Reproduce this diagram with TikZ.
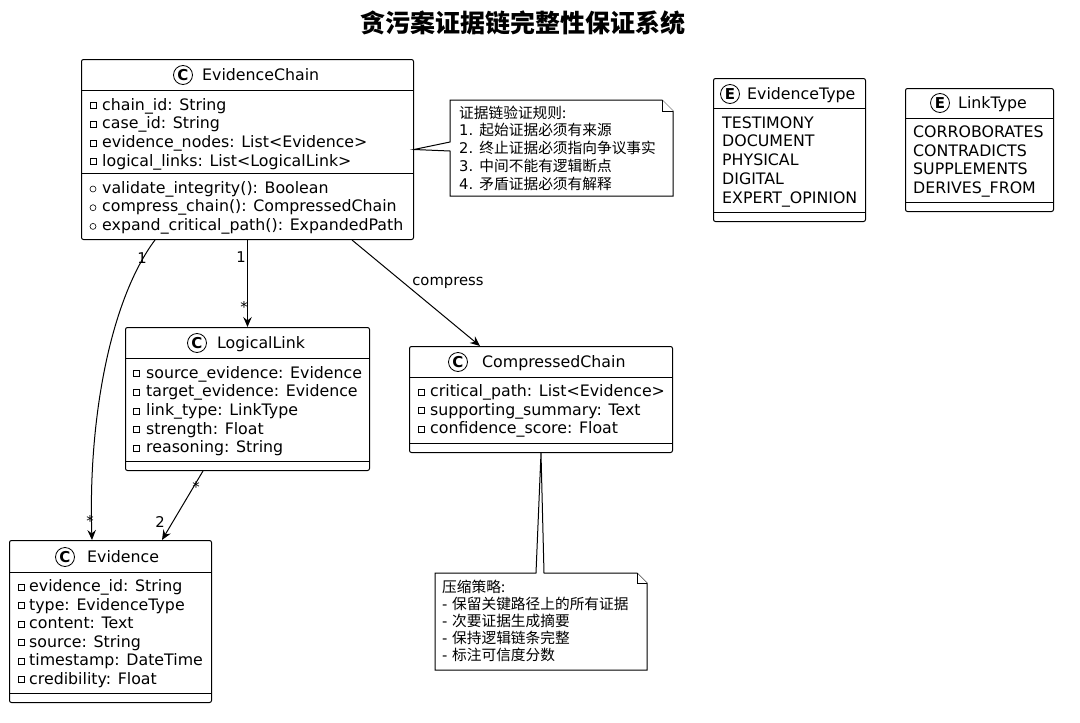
\documentclass[tikz,border=0pt]{standalone}
\usepackage{fontspec}
\setmainfont{DejaVu Sans}
\newfontfamily\cjk{Noto Sans CJK SC}
\usetikzlibrary{arrows.meta,positioning}

\tikzset{
  classbox/.style={draw, rounded corners=2pt, anchor=north west, inner sep=0pt, line width=1pt},
  divider/.style={line width=1pt},
  icon/.style={draw, circle, inner sep=0pt, minimum size=19pt, line width=0.8pt, font=\fontsize{15}{15}\selectfont\bfseries},
  classname/.style={anchor=base west, inner sep=0pt, font=\fontsize{15.8}{18}\selectfont},
  member/.style={anchor=base west, inner sep=0pt, font=\fontsize{15.8}{18}\selectfont},
  privmark/.style={line width=0.6pt},
  notebox/.style={draw, fill=white, line width=1pt, line join=miter},
  notetext/.style={anchor=base west, inner sep=0pt, font=\fontsize{14.7}{18}\selectfont},
  assoc/.style={-{Stealth[length=10pt,width=8.5pt,inset=3.5pt]}, line width=1pt},
  mult/.style={inner sep=0pt, font=\fontsize{14.8}{18}\selectfont},
}

\begin{document}
\begin{tikzpicture}[x=1pt, y=-1pt]
\useasboundingbox (0,0) rectangle (1080,723);

% Title
\node[font=\cjk\bfseries\fontsize{25}{25}\selectfont] (title) at (523,23) {贪污案证据链完整性保证系统};

% EvidenceChain
\node[classbox, minimum width=332pt, minimum height=180pt] (chain) at (81,59) {};
\draw[divider] (81,90) -- (413,90);
\draw[divider] (81,173) -- (413,173);
\node[icon] (chainicon) at (183,75) {C};
\node[classname] (chainname) at (202,80.5) {EvidenceChain};
\foreach \t [count=\i from 0] in {chain\_id: String, case\_id: String, evidence\_nodes: List<Evidence>, logical\_links: List<LogicalLink>} {
  \draw[privmark] (90,{102.5+18.7*\i}) rectangle +(6,6);
  \node[member] at (102,{110+18.7*\i}) {\t};
}
\foreach \t [count=\i from 0] in {validate\_integrity(): Boolean, compress\_chain(): CompressedChain, expand\_critical\_path(): ExpandedPath} {
  \draw[privmark] (93,{189+18.7*\i}) circle (3pt);
  \node[member] at (102,{193+18.7*\i}) {\t};
}

% rules note
\draw[notebox] (450,100) -- (662,100) -- (673,111) -- (673,196) -- (450,196) -- (450,151) -- (chain.east) -- (450,142) -- cycle;
\draw[notebox] (662,100) -- (662,111) -- (673,111);
\foreach \t [count=\i from 0] in {\cjk 证据链验证规则:, 1. \cjk 起始证据必须有来源, 2. \cjk 终止证据必须指向争议事实, 3. \cjk 中间不能有逻辑断点, 4. \cjk 矛盾证据必须有解释} {
  \node[notetext] at (459,{118+17.8*\i}) {\t};
}

% EvidenceType
\node[classbox, minimum width=152pt, minimum height=143pt] (etype) at (713,78) {};
\draw[divider] (713,108) -- (865,108);
\draw[divider] (713,212) -- (865,212);
\node[icon] (etypeicon) at (730,94) {E};
\node[classname] (etypename) at (747,99.5) {EvidenceType};
\foreach \t [count=\i from 0] in {TESTIMONY, DOCUMENT, PHYSICAL, DIGITAL, EXPERT\_OPINION} {
  \node[member] at (722,{128+18.8*\i}) {\t};
}

% LinkType
\node[classbox, minimum width=148pt, minimum height=123pt] (ltype) at (905,88) {};
\draw[divider] (905,118) -- (1053,118);
\draw[divider] (905,202) -- (1053,202);
\node[icon] (ltypeicon) at (940,103) {E};
\node[classname] (ltypename) at (958,108.5) {LinkType};
\foreach \t [count=\i from 0] in {CORROBORATES, CONTRADICTS, SUPPLEMENTS, DERIVES\_FROM} {
  \node[member] at (913,{137.5+18.7*\i}) {\t};
}

% LogicalLink
\node[classbox, minimum width=244pt, minimum height=143pt] (link) at (125,327) {};
\draw[divider] (125,358) -- (369,358);
\draw[divider] (125,461) -- (369,461);
\node[icon] (linkicon) at (197,343) {C};
\node[classname] (linkname) at (217,348.5) {LogicalLink};
\foreach \t [count=\i from 0] in {source\_evidence: Evidence, target\_evidence: Evidence, link\_type: LinkType, strength: Float, reasoning: String} {
  \draw[privmark] (133,{370.5+18.7*\i}) rectangle +(6,6);
  \node[member] at (146,{378+18.7*\i}) {\t};
}

% CompressedChain
\node[classbox, minimum width=263pt, minimum height=106pt] (comp) at (409,346) {};
\draw[divider] (409,377) -- (672,377);
\draw[divider] (409,443) -- (672,443);
\node[icon] (compicon) at (458,362) {C};
\node[classname] (compname) at (482,367.5) {CompressedChain};
\foreach \t [count=\i from 0] in {critical\_path: List<Evidence>, supporting\_summary: Text, confidence\_score: Float} {
  \draw[privmark] (418,{389+18.7*\i}) rectangle +(6,6);
  \node[member] at (430,{396.5+18.7*\i}) {\t};
}

% strategy note
\draw[notebox] (435,573) -- (536,573) -- (comp.south) -- (544,573) -- (637,573) -- (647,583) -- (647,670) -- (435,670) -- cycle;
\draw[notebox] (637,573) -- (637,583) -- (647,583);
\foreach \t [count=\i from 0] in {\cjk 压缩策略:, - \cjk 保留关键路径上的所有证据, - \cjk 次要证据生成摘要, - \cjk 保持逻辑链条完整, - \cjk 标注可信度分数} {
  \node[notetext] at (442,{592+17.2*\i}) {\t};
}

% Evidence
\node[classbox, minimum width=202pt, minimum height=162pt] (evid) at (9,540) {};
\draw[divider] (9,572) -- (211,572);
\draw[divider] (9,693) -- (211,693);
\node[icon] (evidicon) at (65,557) {C};
\node[classname] (evidname) at (87,562.5) {Evidence};
\foreach \t [count=\i from 0] in {evidence\_id: String, type: EvidenceType, content: Text, source: String, timestamp: DateTime, credibility: Float} {
  \draw[privmark] (18,{584+18.5*\i}) rectangle +(6,6);
  \node[member] at (29,{591.5+18.5*\i}) {\t};
}

% Connectors
\draw[assoc] ([xshift=74pt]chain.south west) .. controls (110,300) and (88,420) .. ([xshift=83pt]evid.north west);
\node[mult] at (142,258) {1};
\node[mult] at (90,521) {*};

\draw[assoc] (chain.south) -- (link.north);
\node[mult] at (241,257) {1};
\node[mult] at (244,307) {*};

\draw[assoc] ([xshift=271pt]chain.south west) -- ([xshift=71pt]comp.north west);
\node[mult] at (448,283) {compress};

\draw[assoc] ([xshift=78pt]link.south west) -- ([xshift=153pt]evid.north west);
\node[mult] at (196,487) {*};
\node[mult] at (160,522) {2};
\end{tikzpicture}
\end{document}
